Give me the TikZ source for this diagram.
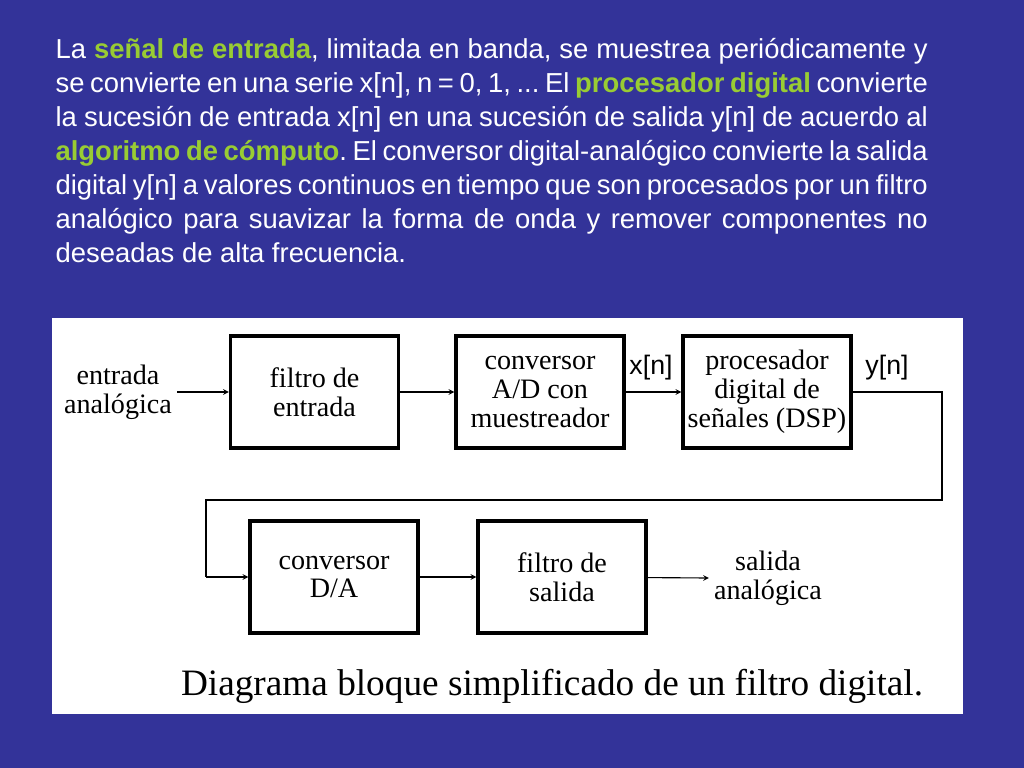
\documentclass[tikz,border=0pt]{standalone}
\usepackage{fontspec}
\setmainfont{Liberation Serif}
\setsansfont{Liberation Sans}
\usetikzlibrary{positioning,arrows}
\definecolor{slide}{HTML}{333399}
\definecolor{keyword}{HTML}{99CC33}
\tikzset{
  block/.style={draw, line width=2.4pt, minimum width=4.2cm, minimum height=2.8cm, align=center, font=\fontsize{20}{20.5}\selectfont},
  lbl/.style={align=center, font=\fontsize{20}{20.5}\selectfont},
  sig/.style={font=\sffamily\fontsize{19}{20}\selectfont}
}
\begin{document}
\begin{tikzpicture}[x=0.025cm,y=-0.025cm,->,>=stealth,line width=0.8pt]
\fill[slide] (0,0) rectangle (1024,768);
\useasboundingbox (0,0) rectangle (1024,768);
\fill[white] (52,318) rectangle (963,714);
%
\node[anchor=north west, text=white, text width=21.8cm, align=justify, inner sep=0pt,
  font=\sffamily\fontsize{19.5}{24.2}\selectfont] (para) at (55,38)
 {\hyphenpenalty=10000\relax\exhyphenpenalty=10000\relax\frenchspacing La \textbf{\color{keyword}señal de entrada}, limitada en banda, se muestrea periódicamente y se convierte en una serie x[n], n = 0, 1, ... El \textbf{\color{keyword}procesador digital} convierte la sucesión de entrada x[n] en una sucesión de salida y[n] de acuerdo al \textbf{\color{keyword}algoritmo de cómputo}. El conversor digital-analógico convierte la salida digital y[n] a valores continuos en tiempo que son procesados por un filtro analógico para suavizar la forma de onda y remover componentes no deseadas de alta frecuencia.};
%
\node[lbl] (in) at (118,392) {entrada\\analógica};
\node[block] (fin) at (314.5,392) {filtro de\\entrada};
\node[block] (adc) at (540,392) {conversor\\A/D con\\muestreador};
\node[block] (dsp) at (767,392) {procesador\\digital de\\señales (DSP)};
\node[block] (dac) at (334,577) {conversor\\D/A};
\node[block] (fout) at (562,577) {filtro de\\salida};
\node[lbl] (out) at (768,578) {salida\\analógica};
\node[sig] (xn) at (651,368) {x[n]};
\node[sig] (yn) at (887,368) {y[n]};
\coordinate (c1) at (942,392);
\coordinate (c2) at (942,500);
\coordinate (c3) at (206,500);
\coordinate (c4) at (206,577);
%
\draw (in.east) -- (fin);
\draw (fin) -- (adc);
\draw (adc) -- (dsp);
\draw[-] (dsp.east) -- (c1) -- (c2) -- (c3) -- (c4);
\draw (c4) -- (dac.west);
\draw (dac) -- (fout);
\draw (fout) -- (out.west);
%
\node[font=\fontsize{26.5}{28}\selectfont] (cap) at (552,686) {Diagrama bloque simplificado de un filtro digital.};
\end{tikzpicture}
\end{document}
